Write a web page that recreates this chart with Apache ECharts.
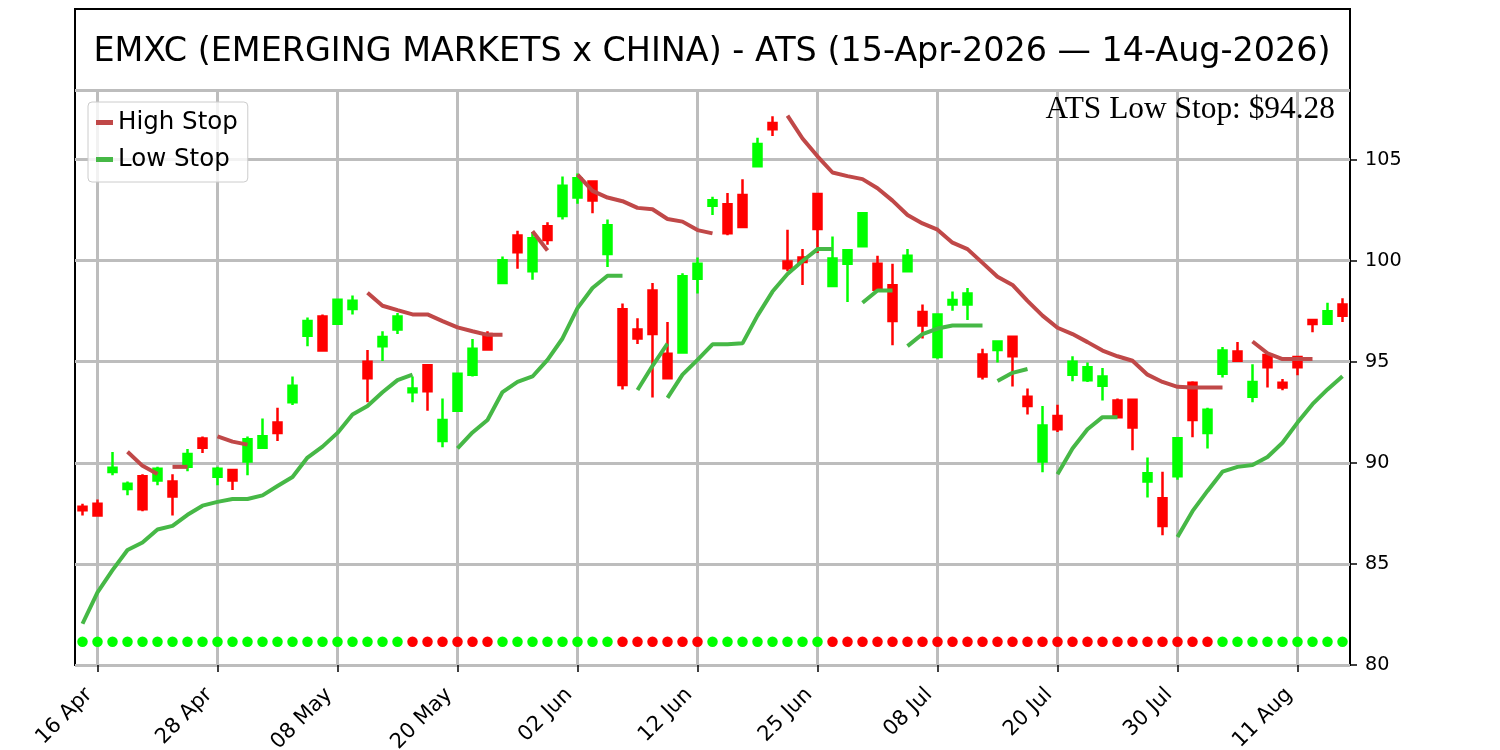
<!DOCTYPE html>
<html>
<head>
<meta charset="utf-8">
<script src="https://cdn.jsdelivr.net/npm/echarts@6/dist/echarts.min.js"></script>
<style>
html, body { margin: 0; padding: 0; background: #fff; }
#main { width: 1500px; height: 750px; }
</style>
</head>
<body>
<div id="main"></div>
<script>
// trading days 15-Apr-2026 .. 14-Aug-2026
var dates = [
  '15 Apr','16 Apr','17 Apr','20 Apr','21 Apr','22 Apr','23 Apr','24 Apr','27 Apr','28 Apr','29 Apr','30 Apr',
  '01 May','04 May','05 May','06 May','07 May','08 May','11 May','12 May','13 May','14 May','15 May','18 May',
  '19 May','20 May','21 May','22 May','26 May','27 May','28 May','29 May',
  '01 Jun','02 Jun','03 Jun','04 Jun','05 Jun','08 Jun','09 Jun','10 Jun','11 Jun','12 Jun','15 Jun','16 Jun',
  '17 Jun','18 Jun','22 Jun','23 Jun','24 Jun','25 Jun','26 Jun','29 Jun','30 Jun',
  '01 Jul','02 Jul','06 Jul','07 Jul','08 Jul','09 Jul','10 Jul','13 Jul','14 Jul','15 Jul','16 Jul','17 Jul',
  '20 Jul','21 Jul','22 Jul','23 Jul','24 Jul','27 Jul','28 Jul','29 Jul','30 Jul','31 Jul',
  '03 Aug','04 Aug','05 Aug','06 Aug','07 Aug','10 Aug','11 Aug','12 Aug','13 Aug','14 Aug'
];

var opens = [
  87.83, 87.97, 89.55, 88.70, 89.34, 89.12, 89.07, 89.80, 91.20, 89.31,
  89.65, 90.07, 90.75, 91.99, 92.99, 96.28, 97.24, 96.88, 97.61, 95.00,
  95.77, 96.59, 93.49, 94.82, 91.08, 92.57, 94.36, 96.37, 98.89, 101.24,
  99.47, 101.70, 102.21, 103.12, 103.91, 100.33, 97.59, 96.59, 98.52, 95.40,
  95.46, 99.11, 102.72, 102.79, 103.25, 104.67, 106.81, 99.96, 100.16, 103.30,
  98.74, 99.84, 100.71, 99.84, 98.78, 99.47, 97.46, 95.24, 97.83, 97.83,
  95.36, 95.58, 96.24, 93.27, 90.07, 92.32, 94.36, 94.09, 93.81, 93.08,
  93.12, 89.07, 88.25, 89.34, 93.96, 91.48, 94.40, 95.51, 93.27, 95.33,
  93.96, 95.24, 97.06, 96.88, 97.83
];
var closes = [
  87.65, 87.40, 89.75, 88.96, 87.70, 89.71, 88.34, 90.44, 90.75, 89.71,
  89.12, 91.17, 91.31, 91.48, 93.81, 97.01, 95.55, 98.07, 98.01, 94.18,
  96.22, 97.24, 93.67, 93.54, 92.12, 94.40, 95.64, 95.60, 100.02, 100.42,
  101.11, 101.02, 103.70, 104.07, 102.97, 101.75, 93.85, 96.15, 96.37, 94.18,
  99.23, 99.84, 102.99, 101.35, 101.66, 105.77, 106.50, 99.62, 99.93, 101.57,
  100.11, 100.51, 102.34, 98.56, 97.01, 100.24, 96.79, 97.34, 98.05, 98.38,
  94.27, 96.00, 95.27, 92.81, 91.84, 91.66, 95.00, 94.73, 94.27, 92.26,
  91.75, 89.49, 86.88, 91.22, 92.12, 92.63, 95.55, 95.05, 94.00, 94.73,
  93.72, 94.73, 96.86, 97.50, 97.28
];
var lows = [
  87.39, 87.34, 89.38, 88.39, 87.61, 88.89, 87.39, 89.58, 90.49, 88.89,
  88.66, 89.38, 90.75, 91.08, 92.86, 95.77, 95.51, 96.85, 97.34, 92.99,
  95.04, 96.37, 92.99, 92.57, 90.77, 92.53, 94.27, 95.58, 98.85, 99.60,
  99.05, 100.78, 102.03, 102.81, 102.35, 99.69, 93.63, 95.88, 93.23, 94.14,
  95.40, 98.38, 102.26, 101.26, 101.62, 104.65, 106.17, 99.47, 98.80, 100.38,
  98.69, 97.96, 100.69, 98.52, 95.82, 99.44, 96.15, 95.15, 97.52, 97.06,
  94.12, 94.96, 93.78, 92.39, 89.53, 91.53, 94.03, 94.00, 93.08, 92.22,
  90.62, 88.29, 86.42, 89.16, 91.26, 90.71, 94.22, 95.00, 92.99, 93.72,
  93.59, 94.33, 96.46, 96.86, 96.97
];
var highs = [
  87.97, 88.19, 90.53, 89.07, 89.43, 89.80, 89.43, 90.68, 91.30, 89.80,
  89.71, 91.30, 92.19, 92.72, 94.27, 97.19, 97.34, 98.10, 98.28, 95.58,
  96.51, 97.41, 94.27, 94.86, 93.18, 94.45, 96.13, 96.51, 100.20, 101.48,
  101.42, 101.90, 104.16, 104.31, 103.95, 102.03, 97.88, 97.15, 98.89, 96.97,
  99.38, 100.16, 103.16, 103.34, 104.03, 106.08, 107.14, 101.53, 100.57, 103.34,
  101.20, 100.57, 102.36, 100.24, 99.84, 100.57, 97.83, 97.37, 98.47, 98.65,
  95.64, 96.06, 96.28, 93.67, 92.81, 92.87, 95.27, 94.96, 94.69, 93.18,
  93.18, 90.26, 89.56, 91.26, 94.03, 92.72, 95.73, 95.97, 94.87, 95.40,
  94.14, 95.27, 97.06, 97.92, 98.14
];

// trend signal per day: 1 = long (green dot), -1 = short (red dot)
var signal = [
  1, 1, 1, 1, 1, 1, 1, 1, 1, 1,
  1, 1, 1, 1, 1, 1, 1, 1, 1, 1,
  1, 1, -1, -1, -1, -1, -1, -1, 1, 1,
  1, 1, 1, 1, 1, 1, -1, -1, -1, -1,
  -1, -1, 1, 1, 1, 1, 1, 1, 1, 1,
  -1, -1, -1, -1, -1, -1, -1, -1, -1, -1,
  -1, -1, -1, -1, -1, -1, -1, -1, -1, -1,
  -1, -1, -1, -1, -1, -1, 1, 1, 1, 1,
  1, 1, 1, 1, 1
];
var dotLevel = 81.15;

// stop line segments: [first day index, values]
var highStopSegs = [
  [3, [90.55, 89.85, 89.45]],
  [6, [89.80, 89.80]],
  [9, [91.31, 91.05, 90.90]],
  [19, [98.41, 97.77, 97.55, 97.34, 97.34, 97.01, 96.70, 96.51, 96.33, 96.33]],
  [30, [101.45, 100.50]],
  [33, [104.25, 103.45, 103.12, 102.94, 102.61, 102.54, 102.06, 101.93, 101.51, 101.35]],
  [47, [107.17, 106.04, 105.16, 104.36, 104.18, 104.03, 103.58, 102.97, 102.26, 101.84,
        101.53, 100.89, 100.57, 99.89, 99.20, 98.80, 98.01, 97.28, 96.68, 96.37,
        95.97, 95.55, 95.27, 95.05, 94.36, 94.00, 93.76, 93.72, 93.72, 93.72]],
  [78, [96.00, 95.42, 95.13, 95.13, 95.13]]
];
var lowStopSegs = [
  [0, [82.04, 83.59, 84.69, 85.69, 86.06, 86.70, 86.88, 87.43, 87.88, 88.07,
       88.21, 88.21, 88.39, 88.85, 89.30, 90.26, 90.80, 91.48, 92.39, 92.81,
       93.49, 94.09, 94.36]],
  [25, [90.71, 91.50, 92.12, 93.50, 94.00, 94.27, 95.09, 96.15, 97.65, 98.65, 99.25, 99.25]],
  [37, [93.60, 94.80, 95.90]],
  [39, [93.21, 94.36, 95.09, 95.86, 95.86, 95.91, 97.28, 98.47, 99.34, 99.98, 100.57, 100.57]],
  [52, [97.92, 98.52, 98.52]],
  [55, [95.77, 96.37, 96.64, 96.79, 96.79, 96.79]],
  [61, [94.05, 94.45, 94.64]],
  [65, [89.43, 90.71, 91.66, 92.26, 92.26]],
  [73, [86.33, 87.61, 88.61, 89.56, 89.80, 89.89, 90.29, 90.99, 91.99, 92.90, 93.63, 94.28]]
];

var yTicks = [80, 85, 90, 95, 100, 105];

var UP = '#00ff00', DOWN = '#ff0000';
var HIGH_COL = '#c04848', LOW_COL = '#46b846';
var GRID_COL = '#bdbdbd';
var FONT = 'DejaVu Sans';

var lastSeg = lowStopSegs[lowStopSegs.length - 1][1];
var lastLow = lastSeg[lastSeg.length - 1];

function showTick(i) { return i >= 1 && (i - 1) % 8 === 0; }
var tickDays = dates.map(function (d, i) { return i; }).filter(showTick);

function segSeries(name, color, segs) {
  return segs.map(function (seg) {
    var data = dates.map(function () { return '-'; });
    seg[1].forEach(function (v, k) { data[seg[0] + k] = v; });
    return {
      name: name,
      type: 'line',
      data: data,
      symbol: 'none',
      showSymbol: false,
      lineStyle: { color: color, width: 4 },
      itemStyle: { color: color },
      z: 4,
      silent: true
    };
  });
}

var chart = echarts.init(document.getElementById('main'));

var option = {
  animation: false,
  backgroundColor: '#fff',
  title: [{
    text: 'EMXC (EMERGING MARKETS x CHINA) - ATS (15-Apr-2026 \u2014 14-Aug-2026)',
    left: 712, top: 52, padding: 0,
    textAlign: 'center', textVerticalAlign: 'middle',
    textStyle: { fontFamily: FONT, fontSize: 33.4, fontWeight: 'normal', color: '#000' }
  }, {
    text: 'ATS Low Stop: $' + lastLow.toFixed(2),
    left: 1335, top: 110, padding: 0,
    textAlign: 'right', textVerticalAlign: 'middle',
    textStyle: { fontFamily: 'Liberation Serif', fontSize: 31.4, fontWeight: 'normal', color: '#000' }
  }],
  legend: {
    left: 88, top: 102, orient: 'vertical',
    itemWidth: 17, itemHeight: 5, itemGap: 12,
    padding: [8, 10, 10, 8],
    backgroundColor: 'rgba(255,255,255,0.8)',
    borderColor: '#cccccc', borderWidth: 1, borderRadius: 4,
    selectedMode: false, z: 10,
    textStyle: { fontFamily: FONT, fontSize: 24.5, color: '#000' },
    data: [
      { name: 'High Stop', icon: 'rect', itemStyle: { color: HIGH_COL } },
      { name: 'Low Stop', icon: 'rect', itemStyle: { color: LOW_COL } }
    ]
  },
  grid: [
    { left: 75, right: 150, top: 90, bottom: 85, outerBoundsMode: 'none', containLabel: false,
      show: true, borderColor: '#000', borderWidth: 2, backgroundColor: 'transparent' },
    { left: 75, right: 150, top: 9, height: 81, outerBoundsMode: 'none', containLabel: false,
      show: true, borderColor: '#000', borderWidth: 2, backgroundColor: 'transparent' }
  ],
  xAxis: [{
    type: 'category',
    data: dates,
    boundaryGap: true,
    axisLine: { show: false },
    axisTick: { show: true, alignWithLabel: true, interval: function (i) { return showTick(i); }, length: 7, lineStyle: { color: '#000', width: 1.5 } },
    axisLabel: { interval: function (i) { return showTick(i); }, rotate: 45, margin: 18, padding: [0, 12, 0, 0],
      fontFamily: FONT, fontSize: 21, color: '#000' },
    splitLine: { show: false }
  }, {
    type: 'value', gridIndex: 1, show: false
  }],
  yAxis: [{
    type: 'value',
    position: 'right',
    min: yTicks[0], max: 108.44, interval: yTicks[1] - yTicks[0],
    axisLine: { show: false },
    axisTick: { show: true, length: 7, lineStyle: { color: '#000', width: 1.5 } },
    axisLabel: { margin: 15, fontFamily: FONT, fontSize: 19.2, color: '#000', showMaxLabel: false,
      formatter: function (v) { return yTicks.indexOf(v) >= 0 ? String(v) : ''; } },
    splitLine: { show: true, lineStyle: { color: GRID_COL, width: 3 } }
  }, {
    type: 'value', gridIndex: 1, show: false
  }],
  series: [{
    name: 'EMXC',
    type: 'candlestick',
    data: dates.map(function (d, i) { return [opens[i], closes[i], lows[i], highs[i]]; }),
    barWidth: 8,
    itemStyle: { color: UP, color0: DOWN, borderColor: UP, borderColor0: DOWN, borderWidth: 2.5 },
    z: 3,
    silent: true
  }, {
    name: 'Signal',
    type: 'scatter',
    data: signal.map(function (s, i) {
      return { value: [i, dotLevel], itemStyle: { color: s > 0 ? UP : DOWN, opacity: 1 } };
    }),
    symbolSize: 10.5,
    itemStyle: { opacity: 1 },
    z: 2,
    silent: true,
    markLine: {
      z: 1,
      silent: true,
      symbol: ['none', 'none'],
      label: { show: false },
      lineStyle: { color: GRID_COL, width: 3, type: 'solid' },
      data: tickDays.map(function (i) { return { xAxis: i }; })
    }
  }].concat(segSeries('High Stop', HIGH_COL, highStopSegs), segSeries('Low Stop', LOW_COL, lowStopSegs))
};

chart.setOption(option);
</script>
</body>
</html>
